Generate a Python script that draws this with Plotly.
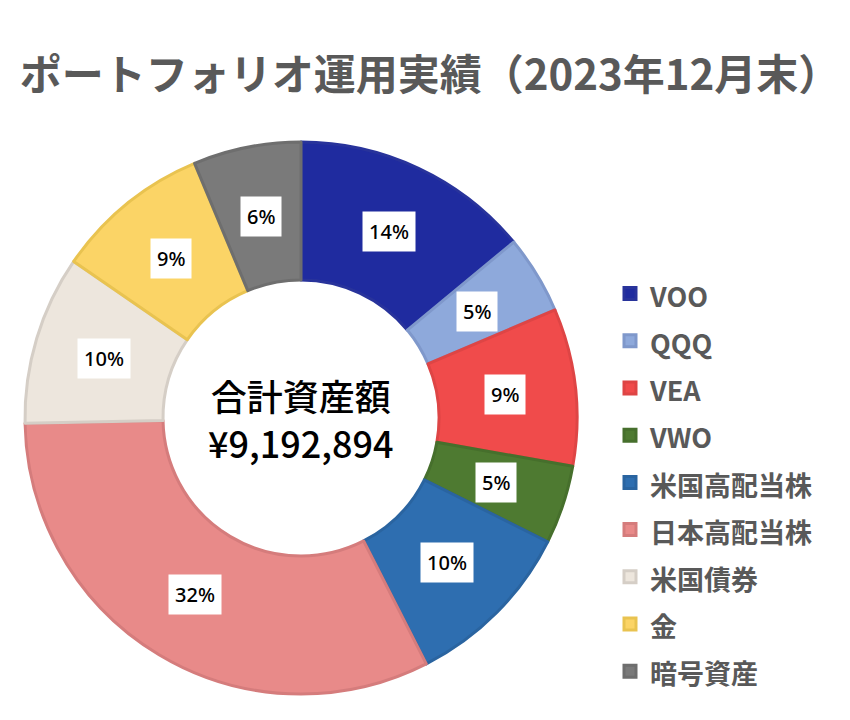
import math
import plotly.graph_objects as go

# ---------------- data ----------------
labels = ["VOO", "QQQ", "VEA", "VWO", "米国高配当株", "日本高配当株", "米国債券", "金", "暗号資産"]
shares = [14.0, 4.6, 9.2, 4.6, 10.1, 32.2, 9.9, 9.1, 6.3]
fill_colors = ["#1F2B9F", "#8EA9DB", "#F04B4B", "#4E7A31", "#2E6EB0",
               "#E88A89", "#EDE6DD", "#FBD466", "#7A7A7A"]
line_colors = ["#28339B", "#7F98CB", "#DE4545", "#466F2C", "#2A64A0",
               "#D57C7C", "#D5CEC6", "#E9C350", "#6E6E6E"]
center_title = "合計資産額"
total_assets = "¥9,192,894"
chart_title = "ポートフォリオ運用実績（2023年12月末）"

# ---------------- layout constants ----------------
OFF = 8                      # page body margin offset of the plot div
W, H = 850 - OFF, 720 - OFF
CX, CY, R = 301 - OFF, 418 - OFF, 276   # donut centre / radius in pixels
HOLE = 0.5
dom_x = [(CX - R) / W, (CX + R) / W]
dom_y = [1 - (CY + R) / H, 1 - (CY - R) / H]

GREY = "#595959"
JP = "Noto Sans CJK JP"

fig = go.Figure(go.Pie(
    labels=[f'<span style="font-size:27px">{l}</span>' for l in labels],
    values=shares,
    sort=False,
    direction="clockwise",
    rotation=0,
    hole=HOLE,
    textinfo="none",
    marker=dict(colors=fill_colors, line=dict(color=line_colors, width=3)),
    domain=dict(x=dom_x, y=dom_y),
    hoverinfo="label+percent",
))

# percentage labels with white boxes, placed at mid-angle of each slice
total = sum(shares)
cum = 0.0
annotations = []
for v in shares:
    mid = (cum + v / 2) / total * 2 * math.pi
    cum += v
    r = R * 0.745
    px = CX + r * math.sin(mid)
    py = CY - r * math.cos(mid)
    annotations.append(dict(
        x=px / W, y=1 - py / H, xref="paper", yref="paper",
        xanchor="center", yanchor="middle",
        text=f"{v / total * 100:.0f}%", showarrow=False,
        font=dict(family="Noto Sans, " + JP, size=20, color="black", weight=500),
        bgcolor="white", borderpad=6,
    ))

annotations.append(dict(
    x=CX / W, y=1 - CY / H, xref="paper", yref="paper",
    text=f"{center_title}<br>{total_assets}", showarrow=False,
    font=dict(family=JP, size=36, color="black", weight=500),
    xanchor="center", yanchor="middle", align="center"))

fig.update_layout(
    width=W, height=H,
    margin=dict(l=0, r=0, t=0, b=0),
    paper_bgcolor="white",
    plot_bgcolor="white",
    title=dict(text=chart_title, x=(430 - OFF) / W, xanchor="center",
               y=1 - (75 - OFF) / H, yanchor="middle",
               font=dict(family=JP, size=42, color=GREY, weight="bold")),
    showlegend=True,
    legend=dict(
        x=(610 - OFF) / W, xanchor="left", y=1 - (265 - OFF) / H, yanchor="top",
        font=dict(family=JP, size=34, color=GREY, weight="bold"),
        bgcolor="rgba(0,0,0,0)", borderwidth=0,
        traceorder="normal",
    ),
    annotations=annotations,
)

fig.write_html("out.html")
